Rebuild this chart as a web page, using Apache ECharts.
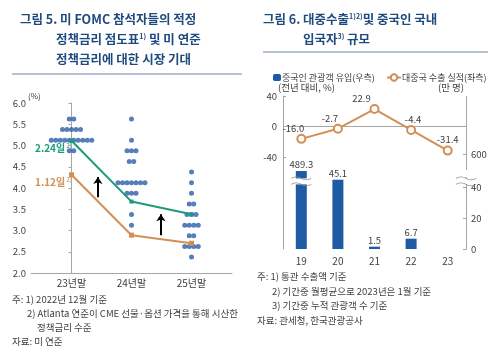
<!DOCTYPE html>
<html><head><meta charset="utf-8">
<script src="https://cdn.jsdelivr.net/npm/echarts@6/dist/echarts.min.js"></script>
<style>html,body{margin:0;padding:0;background:#fff}#c{width:500px;height:351px}</style>
</head><body><div id="c"></div>
<script>
// ---------- Figure 5 data ----------
const dotCategories = ['23년말', '24년말', '25년말'];
// [rate, number of participants] per category
const dots23 = [[5.625, 2], [5.375, 5], [5.125, 10], [4.875, 2]];
const dots24 = [[5.625, 1], [5.125, 1], [4.875, 3], [4.625, 2], [4.125, 7], [3.875, 3], [3.375, 1], [3.125, 1]];
const dots25 = [[4.375, 1], [4.125, 1], [3.875, 1], [3.625, 2], [3.375, 3], [3.125, 4], [2.875, 2], [2.625, 4], [2.375, 1]];
const market0224 = [5.11, 3.68, 3.38];
const market0112 = [4.31, 2.89, 2.70];
const arrowX = [0.44, 1.49];
const arrowFrom = [3.78, 2.89];
const arrowTo = [4.26, 3.38];
const rateMin = 2.0, rateMax = 6.0, rateStep = 0.5;

// ---------- Figure 6 data ----------
const years = ['19', '20', '21', '22', '23'];
const tourists = [489.3, 45.1, 1.5, 6.7, null];        // 만 명 (right axis)
const exportsYoY = [-16.0, -2.7, 22.9, -4.4, -31.4];   // % (left axis)
const leftTicks = [40, 0, -40];
const rightTicks = [0, 20, 40, 600];
const axisBreak = { start: 47, end: 590 };
const breakMarkValue = 44;

// ---------- styles ----------
const FONT = '"Noto Sans CJK KR", "Noto Sans", sans-serif';
const NAVY = '#1F4A7E';
const DOT = '#2C5EA9';
const GREEN = '#1C9B7A';
const ORANGE = '#D18F55';
const BLUE = '#1F5AA5';
const TXT = '#404040';
const AX = '#A6A6A6';
const dotSpacing = 4.5;
const lineLabelOffsets = [[-8, 0], [-8, 0], [-13, 0], [2, 0], [0, 0]];
const WAVES = 'path://M0,1 C3,-1 7,-1 10,1 C13,3 17,3 20,1 M0,7 C3,5 7,5 10,7 C13,9 17,9 20,7';

function buildDots(rows, ci) {
  const out = [];
  rows.forEach(([rate, n]) => {
    for (let j = 0; j < n; j++) {
      out.push({ value: [ci, rate], symbolOffset: [(j - (n - 1) / 2) * dotSpacing, 0] });
    }
  });
  return out;
}
const dotData = [].concat(buildDots(dots23, 0), buildDots(dots24, 1), buildDots(dots25, 2));
const arrowData = arrowX.map((x, i) => ({ coords: [[x, arrowFrom[i]], [x, arrowTo[i]]] }));

// break decorations: on the broken bar (index 0) and on the right axis line
function breakMarks(catIdx, dx) {
  return [
    { coord: [catIdx, breakMarkValue], symbol: 'rect', symbolSize: [16, 6], symbolOffset: [dx, 0],
      itemStyle: { color: '#fff', borderWidth: 0 } },
    { coord: [catIdx, breakMarkValue], symbol: WAVES, symbolSize: [20, 9], symbolOffset: [dx, 0],
      itemStyle: { color: 'rgba(0,0,0,0)', borderColor: '#8C8C8C', borderWidth: 1 } }
  ];
}

const chart = echarts.init(document.getElementById('c'), null, { renderer: 'canvas' });

const option = {
  backgroundColor: '#fff',
  animation: false,
  textStyle: { fontFamily: FONT },
  grid: [
    { left: 31, right: 268, top: 103, bottom: 78, containLabel: false },
    { left: 283, right: 34, top: 96, bottom: 102, containLabel: false }
  ],
  legend: [
    { data: ['중국인 관광객 유입(우측)'], left: 268, top: 68, itemWidth: 8, itemHeight: 7, itemGap: 4,
      textStyle: { fontSize: 9, color: TXT, fontFamily: FONT, padding: [0, 0, 0, -4] } },
    { data: ['대중국 수출 실적(좌측)'], left: 381, top: 68, itemWidth: 14, itemHeight: 8,
      textStyle: { fontSize: 9, color: TXT, fontFamily: FONT, padding: [0, 0, 0, -4] } }
  ],
  xAxis: [
    { type: 'value', gridIndex: 0, min: -0.675, max: 2.675,
      axisLine: { show: true, lineStyle: { color: AX, width: 1 } },
      axisTick: { show: false }, splitLine: { show: false },
      axisLabel: { customValues: [0, 1, 2], formatter: v => dotCategories[v], fontSize: 10, color: TXT, margin: 5 } },
    { type: 'category', gridIndex: 1, data: years,
      axisLine: { show: false }, axisTick: { show: false },
      axisLabel: { fontSize: 10, color: TXT, margin: 7 } }
  ],
  yAxis: [
    { type: 'value', gridIndex: 0, min: rateMin, max: rateMax, interval: rateStep,
      axisLine: { show: true, lineStyle: { color: AX } },
      axisTick: { show: true, length: 3, lineStyle: { color: AX } },
      splitLine: { show: false },
      axisLabel: { formatter: v => v.toFixed(1), fontSize: 9.5, color: TXT, margin: 5 } },
    { type: 'value', gridIndex: 1, min: -160, max: 40, interval: 40,
      axisLine: { show: true, lineStyle: { color: AX } },
      axisTick: { show: true, inside: true, length: 3, customValues: leftTicks, lineStyle: { color: AX } },
      splitLine: { show: false },
      axisLabel: { customValues: leftTicks, fontSize: 9.5, color: TXT, margin: 6 } },
    { type: 'value', gridIndex: 1, position: 'right', min: 0, max: 638,
      breaks: [{ start: axisBreak.start, end: axisBreak.end, gap: '4.6%' }],
      breakArea: { show: false },
      axisLine: { show: true, lineStyle: { color: AX } },
      axisTick: { show: true, inside: true, length: 3, customValues: rightTicks, lineStyle: { color: AX } },
      splitLine: { show: false },
      axisLabel: { customValues: rightTicks, fontSize: 9.5, color: TXT, margin: 5 } }
  ],
  series: [
    { type: 'scatter', xAxisIndex: 0, yAxisIndex: 0, symbol: 'circle', symbolSize: 5,
      itemStyle: { color: DOT }, data: dotData, z: 3 },
    { type: 'line', xAxisIndex: 0, yAxisIndex: 0, data: market0224.map((v, i) => [i, v]),
      symbol: 'rect', symbolSize: 4, showSymbol: true,
      lineStyle: { color: GREEN, width: 2 }, itemStyle: { color: GREEN }, z: 4 },
    { type: 'line', xAxisIndex: 0, yAxisIndex: 0, data: market0112.map((v, i) => [i, v]),
      symbol: 'rect', symbolSize: 5,
      lineStyle: { color: ORANGE, width: 2 }, itemStyle: { color: ORANGE }, z: 4 },
    { type: 'lines', coordinateSystem: 'cartesian2d', xAxisIndex: 0, yAxisIndex: 0,
      symbol: ['none', 'arrow'], symbolSize: 7,
      lineStyle: { color: '#000', width: 2, opacity: 1, curveness: 0 }, data: arrowData, z: 5 },
    { name: '중국인 관광객 유입(우측)', type: 'bar', xAxisIndex: 1, yAxisIndex: 2,
      data: tourists, barWidth: 11, itemStyle: { color: BLUE },
      label: { show: true, position: 'top', distance: 2, fontSize: 9.5, color: TXT,
        formatter: p => p.value == null ? '' : p.value.toFixed(1) },
      markPoint: { silent: true, label: { show: false }, z: 6,
        data: [].concat(breakMarks(0, 0), breakMarks(4, 18.3)) } },
    { name: '대중국 수출 실적(좌측)', type: 'line', xAxisIndex: 1, yAxisIndex: 1,
      data: exportsYoY.map((v, i) => ({ value: v, label: { offset: lineLabelOffsets[i] } })),
      symbol: 'emptyCircle', symbolSize: 8,
      lineStyle: { color: ORANGE, width: 2 }, itemStyle: { color: ORANGE, borderWidth: 2 },
      label: { show: true, position: 'top', distance: 1, fontSize: 9.5, color: TXT,
        formatter: p => p.value.toFixed(1) },
      markLine: { silent: true, symbol: 'none', label: { show: false },
        lineStyle: { color: AX, type: 'solid', width: 1 }, data: [{ yAxis: 0 }] },
      z: 5 }
  ],
  graphic: [
    // Figure 5 title
    { type: 'text', left: 20, top: 13, style: { text: '그림 5. 미 FOMC 참석자들의 적정', font: 'bold 12.5px ' + FONT, fill: NAVY } },
    { type: 'text', left: 56, top: 33, style: {
        text: '{a|정책금리 점도표}{s|1)}{a| 및 미 연준}',
        rich: { a: { font: 'bold 12.5px ' + FONT, fill: NAVY }, s: { font: 'bold 7px ' + FONT, fill: NAVY, padding: [0, 0, 6, 0] } } } },
    { type: 'text', left: 56, top: 53, style: { text: '정책금리에 대한 시장 기대', font: 'bold 12.5px ' + FONT, fill: NAVY } },
    { type: 'line', shape: { x1: 12, y1: 74, x2: 242, y2: 74 }, style: { stroke: '#6E87A8', lineWidth: 1 } },
    // Figure 6 title
    { type: 'text', left: 263, top: 13, style: {
        text: '{a|그림 6. 대중수출}{s|1)2)}{a|및 중국인 국내}',
        rich: { a: { font: 'bold 12.5px ' + FONT, fill: NAVY }, s: { font: 'bold 7px ' + FONT, fill: NAVY, padding: [0, 0, 6, 0] } } } },
    { type: 'text', left: 303, top: 33, style: {
        text: '{a|입국자}{s|3)}{a| 규모}',
        rich: { a: { font: 'bold 12.5px ' + FONT, fill: NAVY }, s: { font: 'bold 7px ' + FONT, fill: NAVY, padding: [0, 0, 6, 0] } } } },
    { type: 'line', shape: { x1: 263, y1: 52, x2: 488, y2: 52 }, style: { stroke: '#6E87A8', lineWidth: 1 } },
    // axis unit fig 5
    { type: 'text', left: 28, top: 92, style: { text: '(%)', font: '8px ' + FONT, fill: TXT } },
    // annotations fig 5
    { type: 'text', left: 35, top: 142, style: {
        text: '{a|2.24일}{s|2)}', rich: { a: { font: 'bold 10px ' + FONT, fill: GREEN }, s: { font: '6.5px ' + FONT, fill: GREEN, padding: [0, 0, 5, 1] } } } },
    { type: 'text', left: 35, top: 176, style: {
        text: '{a|1.12일}{s|2)}', rich: { a: { font: 'bold 10px ' + FONT, fill: ORANGE }, s: { font: '6.5px ' + FONT, fill: ORANGE, padding: [0, 0, 5, 1] } } } },
    // axis units fig 6
    { type: 'text', left: 278, top: 83, style: { text: '(전년 대비, %)', font: '9.5px ' + FONT, fill: TXT } },
    { type: 'text', left: 438, top: 83, style: { text: '(만 명)', font: '9.5px ' + FONT, fill: TXT } },
    // notes fig 5
    { type: 'text', left: 12, top: 295, style: { text: '주: 1) 2022년 12월 기준', font: '9.5px ' + FONT, fill: TXT } },
    { type: 'text', left: 27, top: 309, style: { text: '2) Atlanta 연준이 CME 선물·옵션 가격을 통해 시산한', font: '9.5px ' + FONT, fill: TXT } },
    { type: 'text', left: 37, top: 323, style: { text: '정책금리 수준', font: '9.5px ' + FONT, fill: TXT } },
    { type: 'text', left: 12, top: 337, style: { text: '자료: 미 연준', font: '9.5px ' + FONT, fill: TXT } },
    // notes fig 6
    { type: 'text', left: 257, top: 272, style: { text: '주: 1) 통관 수출액 기준', font: '9.5px ' + FONT, fill: TXT } },
    { type: 'text', left: 272, top: 287, style: { text: '2) 기간중 월평균으로 2023년은 1월 기준', font: '9.5px ' + FONT, fill: TXT } },
    { type: 'text', left: 272, top: 301, style: { text: '3) 기간중 누적 관광객 수 기준', font: '9.5px ' + FONT, fill: TXT } },
    { type: 'text', left: 257, top: 316, style: { text: '자료: 관세청, 한국관광공사', font: '9.5px ' + FONT, fill: TXT } }
  ]
};
chart.setOption(option);
</script>
</body></html>
